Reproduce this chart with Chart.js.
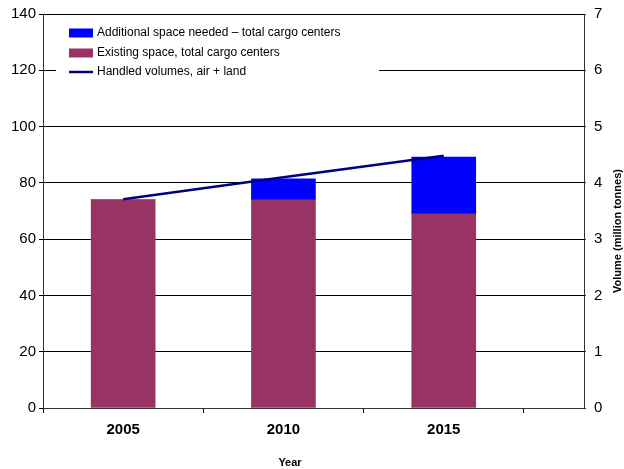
<!DOCTYPE html>
<html>
<head>
<meta charset="utf-8">
<script src="https://cdn.jsdelivr.net/npm/chart.js@4"></script>
<style>
html,body{margin:0;padding:0;background:#fff;}
#wrap{width:624px;height:469px;position:relative;}
</style>
</head>
<body>
<div id="wrap"><canvas id="c" width="624" height="469"></canvas></div>
<script>
const categories = ['2005', '2010', '2015'];
const existingSpace = [74, 74, 69];
const additionalSpace = [0, 7.4, 20.2];
const handledVolumes = [3.71, 4.10, 4.48];
const leftTicks = [0, 20, 40, 60, 80, 100, 120, 140];
const rightTicks = [0, 1, 2, 3, 4, 5, 6, 7];
const xTitle = 'Year';
const y2Title = 'Volume (million tonnes)';

const FONT = "'Liberation Sans', Arial, sans-serif";

const toPts = arr => arr.map((v, i) => ({x: i, y: v}));

const overlayPlugin = {
  id: 'overlay',
  afterDraw(chart) {
    const ctx = chart.ctx;
    const ca = chart.chartArea;
    ctx.save();
    // legend box
    ctx.fillStyle = '#fff';
    ctx.fillRect(ca.left + 13, ca.top + 1, 323, 72);
    const ds = chart.data.datasets;
    const order = [1, 0, 2];
    const rows = [33, 53, 72];
    ctx.font = '12px ' + FONT;
    ctx.textBaseline = 'middle';
    ctx.textAlign = 'left';
    order.forEach((di, r) => {
      const d = ds[di];
      const y = rows[r];
      if (d.type === 'line') {
        ctx.strokeStyle = d.borderColor;
        ctx.lineWidth = 2.5;
        ctx.beginPath();
        ctx.moveTo(69, y);
        ctx.lineTo(93, y);
        ctx.stroke();
      } else {
        ctx.fillStyle = d.backgroundColor;
        ctx.fillRect(69, y - 4.5, 24, 9);
      }
      ctx.fillStyle = '#000';
      ctx.fillText(d.label, 97, y);
    });
    // axis titles
    ctx.font = 'bold 11px ' + FONT;
    ctx.fillStyle = '#000';
    ctx.textAlign = 'center';
    ctx.fillText(xTitle, 290, 463);
    ctx.translate(618, 231);
    ctx.rotate(-Math.PI / 2);
    ctx.fillText(y2Title, 0, 0);
    ctx.restore();
  }
};

new Chart(document.getElementById('c'), {
  type: 'bar',
  data: {
    datasets: [
      {
        type: 'bar',
        label: 'Existing space, total cargo centers',
        data: toPts(existingSpace),
        backgroundColor: '#993366',
        barThickness: 64,
        yAxisID: 'y',
        order: 2
      },
      {
        type: 'bar',
        label: 'Additional space needed \u2013 total cargo centers',
        data: toPts(additionalSpace),
        backgroundColor: '#0000FF',
        barThickness: 64,
        yAxisID: 'y',
        order: 2
      },
      {
        type: 'line',
        label: 'Handled volumes, air + land',
        data: toPts(handledVolumes),
        borderColor: '#000080',
        backgroundColor: '#000080',
        borderWidth: 2.5,
        pointRadius: 0,
        tension: 0,
        yAxisID: 'y2',
        order: 1
      }
    ]
  },
  options: {
    responsive: false,
    animation: false,
    events: [],
    layout: {padding: {top: 14, left: 0, right: 0, bottom: 0}},
    plugins: {legend: {display: false}, tooltip: {enabled: false}},
    scales: {
      x: {
        type: 'linear',
        min: -0.5,
        max: 2.875,
        offset: false,
        stacked: true,
        afterBuildTicks: s => { s.ticks = [-0.5, 0, 0.5, 1, 1.5, 2, 2.5].map(v => ({value: v})); },
        afterFit: s => { s.height = 61; s.paddingLeft = 0; s.paddingRight = 0; },
        grid: {
          offset: false,
          drawOnChartArea: false,
          tickLength: 5,
          tickColor: c => (c.tick && Number.isInteger(c.tick.value)) ? 'rgba(0,0,0,0)' : '#000'
        },
        border: {color: '#333', width: 1},
        ticks: {
          autoSkip: false,
          maxRotation: 0,
          padding: 8,
          color: '#000',
          font: {family: FONT, size: 15, weight: 'bold'},
          callback: v => Number.isInteger(v) ? (categories[v] || '') : ''
        }
      },
      y: {
        position: 'left',
        stacked: true,
        min: 0,
        max: 140,
        afterBuildTicks: s => { s.ticks = leftTicks.map(v => ({value: v})); },
        afterFit: s => { s.width = 43; s.paddingTop = 0; s.paddingBottom = 0; },
        grid: {color: '#000', lineWidth: 1, tickLength: 4, tickColor: '#000'},
        border: {color: '#333', width: 1},
        ticks: {padding: 3, color: '#000', font: {family: FONT, size: 15}}
      },
      y2: {
        position: 'right',
        min: 0,
        max: 7,
        afterBuildTicks: s => { s.ticks = rightTicks.map(v => ({value: v})); },
        afterFit: s => { s.width = 40; s.paddingTop = 0; s.paddingBottom = 0; },
        grid: {drawOnChartArea: false, tickLength: 2, tickColor: '#333'},
        border: {color: '#333', width: 1},
        ticks: {padding: 8, color: '#000', font: {family: FONT, size: 15}}
      }
    }
  },
  plugins: [overlayPlugin]
});
</script>
</body>
</html>
